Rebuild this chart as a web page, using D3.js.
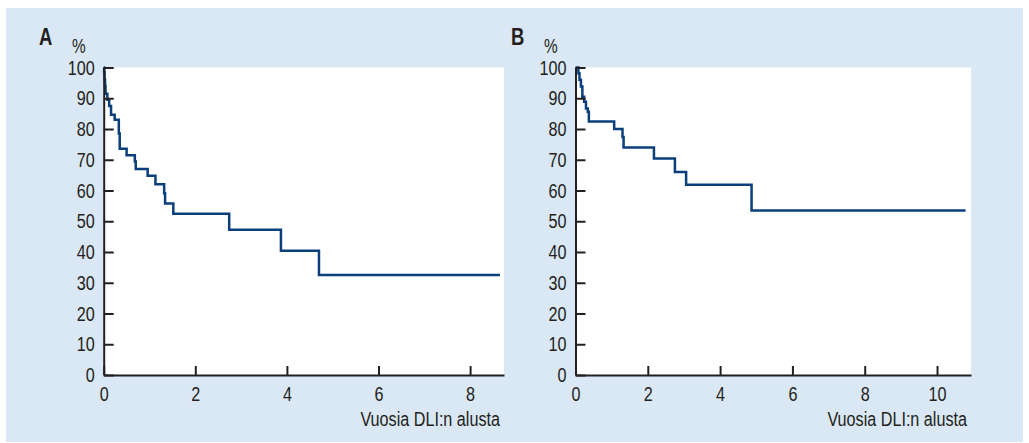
<!DOCTYPE html>
<html>
<head>
<meta charset="utf-8">
<script src="https://cdn.jsdelivr.net/npm/d3@7"></script>
<style>
  body { margin: 0; background: #fff; }
  text { font-family: "Liberation Sans", Arial, sans-serif; fill: #231f20; }
</style>
</head>
<body>
<svg id="chart" width="1029" height="443"></svg>
<script>
// panel A: time in years, survival %
var timesA = [0, 0.01, 0.02, 0.03, 0.04, 0.08, 0.12, 0.16, 0.24, 0.33, 0.35, 0.50, 0.68, 0.70, 0.96, 1.13, 1.32, 1.34, 1.52, 2.74, 3.87, 4.70, 8.65];
var survA = [100, 98.5, 96, 94, 91.5, 89.5, 87.5, 84.6, 83, 78.5, 73.6, 71.5, 69.4, 67, 64.8, 62, 59.1, 55.8, 52.4, 47.2, 40.4, 32.5, 32.5];
// panel B
var timesB = [0, 0.08, 0.11, 0.15, 0.19, 0.24, 0.29, 0.34, 0.37, 0.40, 1.07, 1.30, 1.33, 2.17, 2.75, 3.06, 4.87, 10.79];
var survB = [100, 98.1, 96, 93.8, 90.5, 88.9, 86.7, 85.6, 82.4, 82.4, 80, 77.4, 74, 70.4, 66, 61.9, 53.5, 53.5];

var yTicks = [0, 10, 20, 30, 40, 50, 60, 70, 80, 90, 100];
var xTicksA = [0, 2, 4, 6, 8];
var xTicksB = [0, 2, 4, 6, 8, 10];

var svg = d3.select("#chart");
var lineColor = "#0b3f7c", axisColor = "#231f20";
var squeeze = 0.77; // fake a condensed face

// narrow a text horizontally, keeping its anchor point
function condense(sel) {
  sel.each(function() {
    var t = d3.select(this);
    var x = +t.attr("x") || 0;
    t.attr("x", x / squeeze).attr("transform", "scale(" + squeeze + ",1)");
  });
}

svg.append("rect").attr("x", 6).attr("y", 8).attr("width", 1017).attr("height", 434).attr("fill", "#dae7f4");

function panel(opt) {
  var x = d3.scaleLinear().domain([0, opt.xMax]).range([opt.left, opt.right]);
  var y = d3.scaleLinear().domain([0, 100]).range([375, 67.5]);

  svg.append("rect")
    .attr("x", opt.left).attr("y", y(100))
    .attr("width", opt.right - opt.left).attr("height", y(0) - y(100))
    .attr("fill", "#fff");

  var pts = opt.times.map(function(t, i) { return [t, opt.surv[i]]; });
  var line = d3.line().x(function(d) { return x(d[0]); }).y(function(d) { return y(d[1]); }).curve(d3.curveStepAfter);
  svg.append("path").datum(pts)
    .attr("d", line)
    .attr("fill", "none")
    .attr("stroke", lineColor)
    .attr("stroke-width", 2.5);

  var yAxis = d3.axisLeft(y).tickValues(yTicks).tickSizeInner(-10).tickSizeOuter(0).tickPadding(9);
  var gy = svg.append("g").attr("transform", "translate(" + opt.left + ",0)").call(yAxis);

  var xAxis = d3.axisBottom(x).tickValues(opt.xTicks).tickSizeInner(-9).tickSizeOuter(0).tickPadding(11);
  var gx = svg.append("g").attr("transform", "translate(0," + y(0) + ")").call(xAxis);

  [gx, gy].forEach(function(g) {
    g.select(".domain").attr("stroke", axisColor).attr("stroke-width", 2);
    g.selectAll(".tick line").attr("stroke", axisColor).attr("stroke-width", 2);
    g.selectAll(".tick text").attr("font-size", 21).attr("fill", axisColor)
      .style("font-family", "'Liberation Sans', Arial, sans-serif")
      .call(condense);
  });
  gx.selectAll(".tick text").attr("dy", "0.72em");

  svg.append("text").attr("x", opt.labelX).attr("y", 45)
    .attr("font-size", 24).attr("font-weight", "bold").text(opt.label).call(condense);
  svg.append("text").attr("x", opt.labelX + 33).attr("y", 53)
    .attr("font-size", 20).text("%").call(condense);
  svg.append("text").attr("x", opt.right - 4).attr("y", 426)
    .attr("text-anchor", "end").attr("font-size", 21).text("Vuosia DLI:n alusta").call(condense);
}

panel({ label: "A", labelX: 39, left: 103.7, right: 504, xMax: 8.74, xTicks: xTicksA, times: timesA, surv: survA });
panel({ label: "B", labelX: 511, left: 575.5, right: 971, xMax: 10.94, xTicks: xTicksB, times: timesB, surv: survB });
</script>
</body>
</html>
